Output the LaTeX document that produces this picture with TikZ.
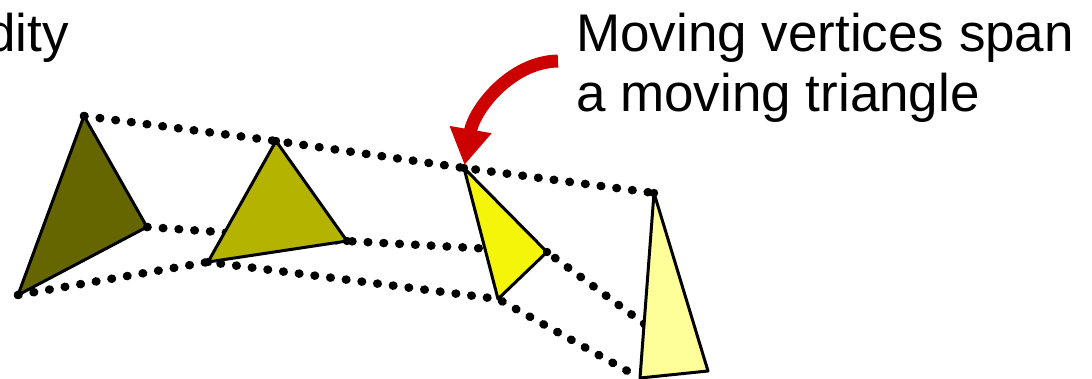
\documentclass[tikz,border=0pt]{standalone}
\usepackage{xcolor}
\definecolor{OliveDark}{HTML}{666600}
\definecolor{OliveMid}{HTML}{B3B300}
\definecolor{YellowBright}{HTML}{F5F50A}
\definecolor{YellowPale}{HTML}{FFFF99}
\definecolor{ArrowRed}{HTML}{CC0000}
\usepackage{fontspec}
\setmainfont{Liberation Sans}
\usepackage{tikz}
\usetikzlibrary{arrows.meta,positioning}

\begin{document}
\begin{tikzpicture}[x=1pt,y=-1pt,
    trail/.style={line width=8.5pt, line cap=round, dash pattern=on 0.6pt off 15.2pt},
    tri/.style={draw=black, line width=3pt, line join=round},
    caption/.style={inner sep=0pt, font=\fontsize{53}{60}\selectfont},
    bigarrow/.style={ArrowRed, line width=13pt, -{Triangle[width=40pt,length=36pt]}}]
  \useasboundingbox (0,0) rectangle (1092,379);

  % vertices of the four positions
  \coordinate (a1) at (84,116);  \coordinate (b1) at (147,227); \coordinate (c1) at (18,295);
  \coordinate (a2) at (276,141); \coordinate (b2) at (347,241); \coordinate (c2) at (208,262);
  \coordinate (a3) at (464,168); \coordinate (b3) at (547,252); \coordinate (c3) at (498,299);
  \coordinate (a4) at (654,193); \coordinate (b4) at (708,371); \coordinate (c4) at (640,378);

  % dotted vertex paths
  \draw[trail] (a1) -- (a2) -- (a3) -- (a4);
  \draw[trail, shorten >=8pt] (b1) -- (b2) -- (b3) -- (b4);
  \draw[trail] (c1) -- (c2) -- (c3) -- (c4);

  % triangles
  \filldraw[tri, fill=OliveDark]    (a1) -- (b1) -- (c1) -- cycle;
  \filldraw[tri, fill=OliveMid]     (a2) -- (b2) -- (c2) -- cycle;
  \filldraw[tri, fill=YellowBright] (a3) -- (b3) -- (c3) -- cycle;
  \filldraw[tri, fill=YellowPale]   (a4) -- (b4) -- (c4) -- cycle;

  \foreach \v in {a1,b1,c1,a2,b2,c2,a3,b3,a4}
    \fill (\v) circle[radius=4.2];

  % labels
  \node[caption, anchor=base east] (dity) at (69,52) {dity};
  \node[caption, anchor=base west] (spanA) at (576,52) {Moving vertices span};
  \node[caption, anchor=base west] (spanB) at (576,112) {a moving triangle};

  \coordinate (arrowstart) at (558,61);
  \draw[bigarrow, shorten >=3pt] (arrowstart) .. controls (510,62) and (474,110) .. (a3);
\end{tikzpicture}
\end{document}
